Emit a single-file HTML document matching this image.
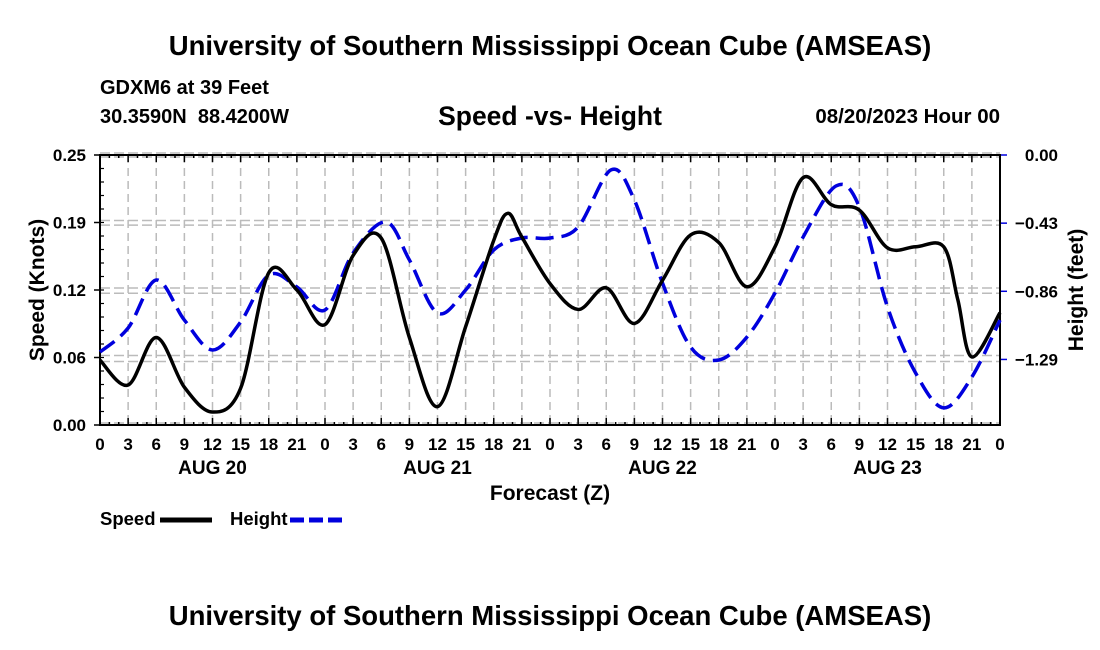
<!DOCTYPE html>
<html><head><meta charset="utf-8"><style>
body{margin:0;background:#fff;}
svg{display:block;font-family:"Liberation Sans",Arial,sans-serif;font-weight:bold;}
</style></head><body>
<svg id="c" width="1100" height="650" viewBox="0 0 1100 650">
<text x="550" y="55" font-size="27.5" text-anchor="middle">University of Southern Mississippi Ocean Cube (AMSEAS)</text>
<text x="100" y="94" font-size="20">GDXM6 at 39 Feet</text>
<text x="100" y="123" font-size="20" xml:space="preserve">30.3590N  88.4200W</text>
<text x="550" y="125" font-size="26.5" text-anchor="middle">Speed -vs- Height</text>
<text x="1000" y="123" font-size="20.5" text-anchor="end">08/20/2023 Hour 00</text>
<g id="grid"></g>
<g id="axes"></g>
<g id="series"></g>
<text transform="translate(44,290) rotate(-90)" font-size="21" text-anchor="middle">Speed (Knots)</text>
<text transform="translate(1083,290) rotate(-90)" font-size="21" text-anchor="middle">Height (feet)</text>
<text x="550" y="500" font-size="21" text-anchor="middle">Forecast (Z)</text>
<g>
<text x="100" y="525" font-size="18.5">Speed</text>
<line x1="160" y1="520" x2="212" y2="520" stroke="#000" stroke-width="5"/>
<text x="230" y="525" font-size="18.5">Height</text>
<line x1="290" y1="520" x2="342" y2="520" stroke="#0000dd" stroke-width="5" stroke-dasharray="14,5"/>
</g>
<text x="550" y="625" font-size="27.5" text-anchor="middle">University of Southern Mississippi Ocean Cube (AMSEAS)</text>
</svg>
<script>
const speedHours=[0,3,6,9,12,15,18,21,24,27,30,33,36,39,42,43.5,45,48,51,54,57,60,63,66,69,72,75,78,81,84,87,90,91.5,93,96];
const speedValues=[0.060,0.037,0.081,0.035,0.012,0.034,0.141,0.125,0.093,0.157,0.173,0.081,0.017,0.091,0.171,0.196,0.174,0.131,0.107,0.127,0.094,0.134,0.176,0.169,0.128,0.165,0.229,0.204,0.199,0.164,0.165,0.165,0.116,0.063,0.104];
const heightHours=[0,3,6,9,12,15,18,21,24,27,30.5,33,36,39,42,45,48,51,54.5,57,60,63,66,69,72,75,78.5,81,84,87,90,93,96];
const heightValues=[-1.239,-1.088,-0.786,-1.038,-1.226,-1.050,-0.755,-0.830,-0.975,-0.616,-0.421,-0.660,-0.994,-0.849,-0.597,-0.522,-0.522,-0.453,-0.094,-0.283,-0.805,-1.208,-1.289,-1.145,-0.868,-0.516,-0.195,-0.327,-0.956,-1.371,-1.590,-1.396,-1.038];
const speedTicks=[0,0.0625,0.125,0.1875,0.25];
const speedTickLabels=["0.00","0.06","0.12","0.19","0.25"];
const heightTicks=[0,-0.4286,-0.8571,-1.2857];
const heightTickLabels=["0.00","\u22120.43","\u22120.86","\u22121.29"];
const dayLabels=["AUG 20","AUG 21","AUG 22","AUG 23"];

const L=100,R=1000,T=155,B=425,HMAX=96,HMIN=-1.698;
const xs=h=>L+h/HMAX*(R-L);
const ys=v=>B-v/0.25*(B-T);
const yh=v=>T+(v/HMIN)*(B-T);
const NS="http://www.w3.org/2000/svg";
function mk(tag,attrs,parent){const e=document.createElementNS(NS,tag);for(const k in attrs)e.setAttribute(k,attrs[k]);parent.appendChild(e);return e;}
const grid=document.getElementById('grid'),axes=document.getElementById('axes'),series=document.getElementById('series');

for(let h=0;h<=96;h+=3){
  const x=xs(h);
  const gl=mk('line',{x1:x,y1:T,x2:x,y2:B,stroke:'#bbb','stroke-width':1.5,'stroke-dasharray':'8,5'},grid);
  
  
  const t=mk('text',{x:x,y:450,'font-size':17,'text-anchor':'middle'},axes);
  t.textContent=String(h%24);
  
  
}
for(let h=0;h<=96;h+=1){
  const x=xs(h),len=(h%3===0)?7:3;
  mk('line',{x1:x,y1:B,x2:x,y2:B-len,stroke:'#000','stroke-width':1.5},axes);
  mk('line',{x1:x,y1:T,x2:x,y2:T+len,stroke:'#000','stroke-width':1.5},axes);
}
dayLabels.forEach((d,i)=>{
  const t=mk('text',{x:xs(i*24+12),y:474,'font-size':19,'text-anchor':'middle'},axes);
  t.textContent=d;
  
  
});
speedTicks.forEach((v,i)=>{
  const y=ys(v);
  const g=mk('line',{x1:L,y1:y-2,x2:R,y2:y-2,stroke:'#bbb','stroke-width':1.5,'stroke-dasharray':'10,4'},grid);
  
  
  mk('line',{x1:L-6,y1:y,x2:L,y2:y,stroke:'#000','stroke-width':1.5},axes);
  const t=mk('text',{x:86,y:y+6,'font-size':17,'text-anchor':'end'},axes);
  t.textContent=speedTickLabels[i];
  
  
});
for(let v=0;v<=0.25;v+=0.0125){mk('line',{x1:L,y1:ys(v),x2:L+4,y2:ys(v),stroke:'#000','stroke-width':1.2},axes);}
heightTicks.forEach((v,i)=>{
  const y=yh(v);
  const g=mk('line',{x1:L,y1:y+2,x2:R,y2:y+2,stroke:'#bbb','stroke-width':1.5,'stroke-dasharray':'10,4'},grid);
  
  
  mk('line',{x1:R,y1:y,x2:R+7,y2:y,stroke:'#0000dd','stroke-width':1.5},axes);
  const t=mk('text',{x:1058,y:y+6,'font-size':17,'text-anchor':'end'},axes);
  t.textContent=heightTickLabels[i];
  
  
});
mk('rect',{x:L,y:T,width:R-L,height:B-T,fill:'none',stroke:'#000','stroke-width':2},axes);

function path(hs,vs,yf){
  const p=hs.map((h,i)=>[xs(h),yf(vs[i])]);
  let d='M'+p[0][0]+','+p[0][1];
  for(let i=0;i<p.length-1;i++){
    const p0=p[i-1]||p[i],p1=p[i],p2=p[i+1],p3=p[i+2]||p[i+1];
    const c1=[p1[0]+(p2[0]-p0[0])/6,p1[1]+(p2[1]-p0[1])/6];
    const c2=[p2[0]-(p3[0]-p1[0])/6,p2[1]-(p3[1]-p1[1])/6];
    d+=` C${c1[0]},${c1[1]} ${c2[0]},${c2[1]} ${p2[0]},${p2[1]}`;
  }
  return d;
}
const hp=mk('path',{d:path(heightHours,heightValues,yh),fill:'none',stroke:'#0000dd','stroke-width':3.5,'stroke-dasharray':'18,8'},series);


const sp=mk('path',{d:path(speedHours,speedValues,ys),fill:'none',stroke:'#000','stroke-width':3.5},series);


</script>
</body></html>
